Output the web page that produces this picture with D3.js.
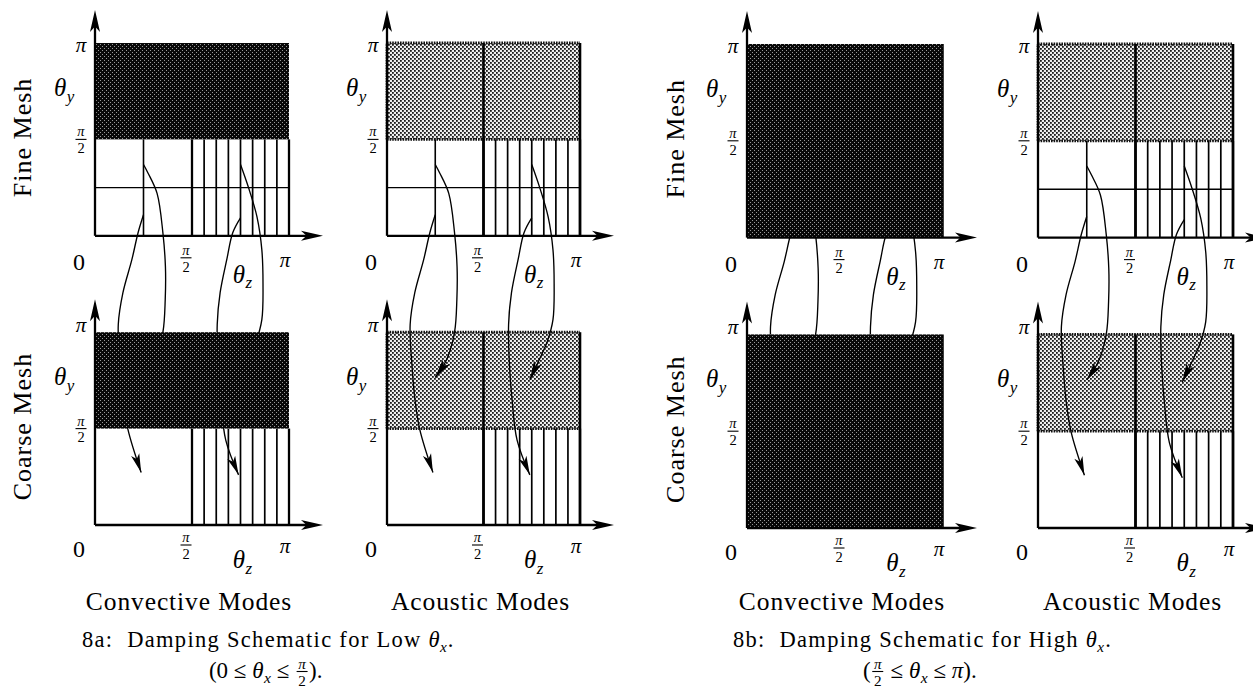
<!DOCTYPE html>
<html><head><meta charset="utf-8">
<script src="https://cdn.jsdelivr.net/npm/d3@7"></script>
<style>body{margin:0;background:#fff}svg{display:block;font-family:"Liberation Serif","Times New Roman",serif}</style>
</head><body>
<svg id="c" width="1253" height="692"></svg>
<script>
// ================= DATA =================
const figureIds = ["8a", "8b"];
const modeTitles = ["Convective Modes", "Acoustic Modes"];
const meshLabels = ["Fine Mesh", "Coarse Mesh"];
const tickValues = [0, 0.5, 1];                 // θ in units of π
const tickLabels = ["0", "π/2", "π"];
const stripeValues = [0.5, 0.5625, 0.625, 0.6875, 0.75, 0.8125, 0.875, 0.9375, 1];
const quarterValue = 0.25;
// shading of the upper half / whole panel: [column]
const shadeA = ["darkTop", "lightTop"];
const shadeB = ["darkFull", "lightTop"];
// caption texts
const captionHeads = ["8a:  Damping Schematic for Low ", "8b:  Damping Schematic for High "];
const captionLower = ["0", "π/2"];
const captionUpper = ["π/2", "π"];
// damping curves: [θz/π, stacked θy/π]  (fine panel 0..1, coarse panel -1.5..-0.5)
const curveOuterLeft  = [[0.25,0.37],[0.273,0.326],[0.32,0.22],[0.35,0.015],[0.363,-0.16],[0.362,-0.33],[0.35,-0.50],[0.31,-0.64],[0.25,-0.735]];
const curveInnerLeft  = [[0.25,0.109],[0.222,0.016],[0.19,-0.124],[0.144,-0.295],[0.12,-0.46],[0.13,-0.68],[0.145,-0.85],[0.17,-1.005],[0.238,-1.228]];
const curveOuterRight = [[0.75,0.37],[0.79,0.254],[0.835,0.098],[0.86,-0.073],[0.866,-0.25],[0.86,-0.435],[0.83,-0.55],[0.79,-0.64],[0.74,-0.746]];
const curveInnerRight = [[0.75,0.093],[0.71,0.016],[0.68,-0.12],[0.645,-0.295],[0.63,-0.46],[0.635,-0.68],[0.648,-0.85],[0.674,-1.06],[0.74,-1.24]];
const curves = [curveOuterLeft, curveInnerLeft, curveOuterRight, curveInnerRight];

// ================= LAYOUT =================
const layout = {
  "8a": {cols: [[95, 289], [387, 580]], yRange: [525, 43], meshX: 31, capX: 82, cap1Y: 647, cap2Y: 678, cap2Shift: -2},
  "8b": {cols: [[747, 943], [1038, 1233]], yRange: [528, 44], meshX: 684, capX: 733, cap1Y: 647, cap2Y: 678, cap2Shift: -2}
};
const rowOff = [ // label offsets per row (fine, coarse)
  {piY: 9, zeroY: 34, piX: 31, fracX: 22, thzY: 47},
  {piY: 0, zeroY: 32, piX: 28, fracX: 20, thzY: 43}
];

const svg = d3.select("#c");
const defs = svg.append("defs");
const pd = defs.append("pattern").attr("id", "dark").attr("width", 4).attr("height", 4).attr("patternUnits", "userSpaceOnUse");
pd.append("rect").attr("width", 4).attr("height", 4).attr("fill", "#080808");
pd.append("rect").attr("x", 0).attr("y", 0).attr("width", 1).attr("height", 1).attr("fill", "#999");
pd.append("rect").attr("x", 2).attr("y", 2).attr("width", 1).attr("height", 1).attr("fill", "#999");
const pl = defs.append("pattern").attr("id", "light").attr("width", 4).attr("height", 4).attr("patternUnits", "userSpaceOnUse");
pl.append("rect").attr("width", 4).attr("height", 4).attr("fill", "#eeeeee");
pl.append("rect").attr("x", 0).attr("y", 0).attr("width", 1.8).attr("height", 1.8).attr("fill", "#1a1a1a");
pl.append("rect").attr("x", 2).attr("y", 2).attr("width", 1.8).attr("height", 1.8).attr("fill", "#1a1a1a");

const L1 = svg.append("g"), L2 = svg.append("g"), L3 = svg.append("g"), L4 = svg.append("g"), L5 = svg.append("g");

function arrowHead(g, tx, ty, ux, uy, len, hw) {
  const bx = tx - ux * len, by = ty - uy * len;
  const nx = -uy, ny = ux;
  const cx = tx - ux * len * 0.75, cy = ty - uy * len * 0.75;
  g.append("path").attr("d", `M${tx},${ty}L${bx + nx * hw},${by + ny * hw}L${cx},${cy}L${bx - nx * hw},${by - ny * hw}Z`).attr("fill", "#000");
}

function txt(g, x, y, s, size, italic, anchor) {
  return g.append("text").attr("x", x).attr("y", y).attr("font-size", size)
    .attr("font-style", italic ? "italic" : "normal").attr("text-anchor", anchor || "start").text(s);
}

function frac(g, cx, barY, num, den, fs, w) {
  txt(g, cx, barY - 3, num, fs, true, "middle");
  txt(g, cx, barY + fs * 0.95, den, fs, false, "middle");
  g.append("line").attr("x1", cx - w / 2).attr("x2", cx + w / 2).attr("y1", barY).attr("y2", barY).attr("stroke", "#000").attr("stroke-width", 1.1);
}

function theta(g, x, y, sub, fs, anchor) {
  const gg = g.append("g");
  const t = txt(gg, 0, 0, "θ", fs, true);
  const w = t.node().getComputedTextLength();
  const s = txt(gg, w + 0.5, fs * 0.22, sub, fs * 0.68, true);
  const tw = w + 0.5 + s.node().getComputedTextLength();
  const sh = anchor === "middle" ? -tw / 2 : 0;
  gg.attr("transform", `translate(${x + sh},${y})`);
  return tw;
}

function bound(g, x, baseY, v, fs) {
  if (v === "π/2") { frac(g, x + 7, baseY - 6.5, "π", "2", fs * 0.66, 11); return 14; }
  const t = txt(g, x, baseY, v, fs, v === "π");
  return t.node().getComputedTextLength();
}

figureIds.forEach((fid, fi) => {
  const lay = layout[fid];
  const shades = fi === 0 ? shadeA : shadeB;
  const ys = d3.scaleLinear().domain([-1.5, 1]).range(lay.yRange);
  lay.cols.forEach((cr, ci) => {
    const x = d3.scaleLinear().domain([0, 1]).range(cr);
    const line = d3.line().x(d => x(d[0])).y(d => ys(d[1])).curve(d3.curveCatmullRom.alpha(0.5));
    curves.forEach(c => {
      const p = L2.append("path").attr("d", line(c)).attr("fill", "none").attr("stroke", "#000").attr("stroke-width", 1.35);
      const n = p.node(), tl = n.getTotalLength();
      const a = n.getPointAtLength(tl), b = n.getPointAtLength(tl - 8);
      const dx = a.x - b.x, dy = a.y - b.y, dl = Math.hypot(dx, dy);
      arrowHead(L2, a.x, a.y, dx / dl, dy / dl, 19, 4.3);
    });
    [0, 1].forEach(row => {
      const y = v => ys(row === 0 ? v : v - 1.5);
      const shade = shades[ci];
      const fine = row === 0;
      if (shade === "darkFull") {
        L3.append("rect").attr("x", x(0)).attr("y", y(1)).attr("width", x(1) - x(0)).attr("height", y(0) - y(1)).attr("fill", "url(#dark)");
        L4.append("line").attr("x1", x(1)).attr("x2", x(1)).attr("y1", y(0)).attr("y2", y(1)).attr("stroke", "#000").attr("stroke-width", 1.5);
      } else {
        if (shade === "darkTop") {
          L3.append("rect").attr("x", x(0)).attr("y", y(1)).attr("width", x(1) - x(0)).attr("height", y(0.5) - y(1)).attr("fill", "url(#dark)");
        } else {
          L1.append("rect").attr("x", x(0)).attr("y", y(1)).attr("width", x(1) - x(0)).attr("height", y(0.5) - y(1)).attr("fill", "url(#light)");
          const dl = [[0, 1, 1, 1], [0, 0.5, 1, 0.5], [0, 0.5, 0, 1]];
          dl.forEach(s => L4.append("line").attr("x1", x(s[0])).attr("y1", y(s[1])).attr("x2", x(s[2])).attr("y2", y(s[3]))
            .attr("stroke", "#111").attr("stroke-width", 2.8).attr("stroke-dasharray", "1.6 1"));
          L4.append("line").attr("x1", x(1)).attr("x2", x(1)).attr("y1", y(0)).attr("y2", y(1)).attr("stroke", "#000").attr("stroke-width", 2.6);
          L4.append("line").attr("x1", x(0.5)).attr("x2", x(0.5)).attr("y1", y(0)).attr("y2", y(1)).attr("stroke", "#000").attr("stroke-width", 2.6);
        }
        stripeValues.forEach((sv, k) => {
          L4.append("line").attr("x1", x(sv)).attr("x2", x(sv)).attr("y1", y(0)).attr("y2", y(0.5))
            .attr("stroke", "#000").attr("stroke-width", (k === 0 || k === stripeValues.length - 1) ? 2.3 : 1.7);
        });
        if (fine) {
          L4.append("line").attr("x1", x(quarterValue)).attr("x2", x(quarterValue)).attr("y1", y(0)).attr("y2", y(0.5)).attr("stroke", "#000").attr("stroke-width", 1.6);
          L4.append("line").attr("x1", x(0)).attr("x2", x(1)).attr("y1", y(quarterValue)).attr("y2", y(quarterValue)).attr("stroke", "#000").attr("stroke-width", 1.4);
        }
      }
      L4.append("line").attr("x1", x(0)).attr("x2", x(0)).attr("y1", y(0)).attr("y2", y(1) - 20).attr("stroke", "#000").attr("stroke-width", 2.3);
      arrowHead(L4, x(0), y(1) - 33, 0, -1, 22, 5);
      L4.append("line").attr("x1", x(0)).attr("x2", x(1) + 20).attr("y1", y(0)).attr("y2", y(0)).attr("stroke", "#000").attr("stroke-width", 2.3);
      arrowHead(L4, x(1) + 34, y(0), 1, 0, 22, 5);
      const ro = rowOff[row];
      tickValues.forEach((tv, k) => {
        const lab = tickLabels[k];
        if (tv === 0) {
          txt(L5, x(0) - 16, y(0) + ro.zeroY, lab, 24, false, "middle");
        } else if (lab === "π/2") {
          frac(L5, x(tv) - 6, y(0) + ro.fracX, "π", "2", 14.5, 11);
          frac(L5, x(0) - 14, y(tv), "π", "2", 14.5, 11);
        } else {
          txt(L5, x(tv) - 4, y(0) + ro.piX, lab, 21, true, "middle");
          txt(L5, x(0) - 14, y(tv) + ro.piY, lab, 21, true, "middle");
        }
      });
      theta(L5, x(0) - 41, y(1) + 53, "y", 25);
      theta(L5, x(0.71), y(0) + ro.thzY, "z", 25);
    });
    L5.append("text").attr("x", (cr[0] + cr[1]) / 2 - 3).attr("y", 610).attr("font-size", 25.5)
      .attr("letter-spacing", 0.9).attr("text-anchor", "middle").text(modeTitles[ci]);
  });
  meshLabels.forEach((m, row) => {
    const cy = row === 0 ? (ys(1) + ys(0)) / 2 - 2 : (ys(-0.5) + ys(-1.5)) / 2 - 2;
    L5.append("text").attr("transform", `translate(${lay.meshX},${cy}) rotate(-90)`).attr("font-size", 26)
      .attr("letter-spacing", 1).attr("text-anchor", "middle").text(m);
  });
  const c1 = L5.append("g");
  let cx = 0;
  const h = txt(c1, 0, 0, captionHeads[fi], 22.5).attr("letter-spacing", 1.3).style("white-space", "pre");
  cx += h.node().getComputedTextLength();
  cx += theta(c1, cx, 0, "x", 22.5);
  const dot = txt(c1, cx + 1, 0, ".", 22.5);
  cx += 1 + dot.node().getComputedTextLength();
  c1.attr("transform", `translate(${lay.capX},${lay.cap1Y})`);
  const c2 = L5.append("g");
  let px = 0;
  const fs = 23;
  px += txt(c2, px, 0, "(", fs).node().getComputedTextLength();
  px += bound(c2, px, 0, captionLower[fi], fs);
  px += txt(c2, px, 0, " ≤ ", fs).style("white-space", "pre").node().getComputedTextLength();
  px += theta(c2, px, 0, "x", fs);
  px += txt(c2, px, 0, " ≤ ", fs).style("white-space", "pre").node().getComputedTextLength();
  px += bound(c2, px, 0, captionUpper[fi], fs);
  px += txt(c2, px, 0, ").", fs).node().getComputedTextLength();
  const mid = lay.capX + cx / 2 + lay.cap2Shift;
  c2.attr("transform", `translate(${mid - px / 2},${lay.cap2Y})`);
});
</script>
</body></html>
